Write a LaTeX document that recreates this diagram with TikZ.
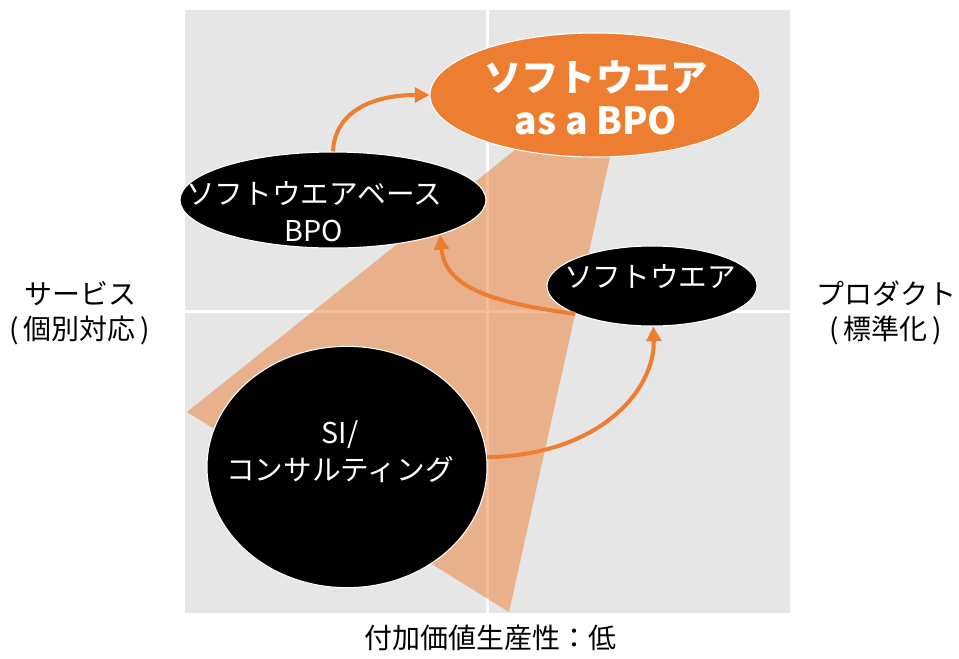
\documentclass[tikz,border=0pt]{standalone}
\usepackage{fontspec}
\setmainfont{Noto Sans CJK JP}
\usetikzlibrary{shapes.geometric,arrows.meta}
\definecolor{bg}{HTML}{E6E6E6}
\definecolor{org}{HTML}{ED7D31}
\tikzset{
  blob/.style={ellipse, draw=white, line width=0.8pt, inner sep=0pt},
  blackblob/.style={blob, fill=black},
  wtext/.style={text=white, align=center, font=\fontsize{21.5}{27.5}\selectfont},
  axis/.style={text=black, align=center, font=\fontsize{21}{26}\selectfont},
  flow/.style={draw=org, line width=3pt, -{Triangle[length=11pt,width=11pt]}},
}
\begin{document}
\begin{tikzpicture}[x=0.75pt,y=-0.75pt]
\useasboundingbox (0,0) rectangle (959,658);
% background quadrants
\fill[bg] (185,10) rectangle (790,613);
\draw[white, line width=2.25pt] (487,10) -- (487,613);
\draw[white, line width=2.25pt] (185,311) -- (790,311);
% translucent band
\fill[org, opacity=0.5] (187,412) -- (540,130) -- (616,130) -- (509,612) -- cycle;
% nodes
\node[blob, fill=org, minimum width=247.5pt, minimum height=93pt] (top) at (595,95) {};
\node[blackblob, minimum width=229.5pt, minimum height=72pt] (bpo) at (333,200) {};
\node[blackblob, minimum width=157.5pt, minimum height=60pt] (sw) at (652,286) {};
\node[blackblob, minimum width=210pt, minimum height=181pt] (si) at (347,467) {};
% texts
\node[text=white, align=center, font=\bfseries\fontsize{28}{32}\selectfont] (toptext) at (596,98) {ソフトウエア\\as a BPO};
\node[wtext] (bpotext) at (314,212) {ソフトウエアベース\\BPO};
\node[wtext] (swtext) at (650,277) {ソフトウエア};
\node[wtext] (sitext) at (340,452) {SI/\\コンサルティング};
\node[axis] (left) at (80,313) {サービス\\(\,個別対応\,)};
\node[axis] (right) at (886,313) {プロダクト\\(\,標準化\,)};
\node[axis] (bottom) at (490,638) {付加価値生産性：低};
% arrows
\draw[flow] (bpo.north) .. controls (335,110) and (375,95) .. (top.west);
\draw[flow] (sw.200) .. controls (485,302) and (445,285) .. (bpo.342);
\draw[flow] (si.4) .. controls (600,455) and (655,390) .. (sw.-88);
\end{tikzpicture}
\end{document}
